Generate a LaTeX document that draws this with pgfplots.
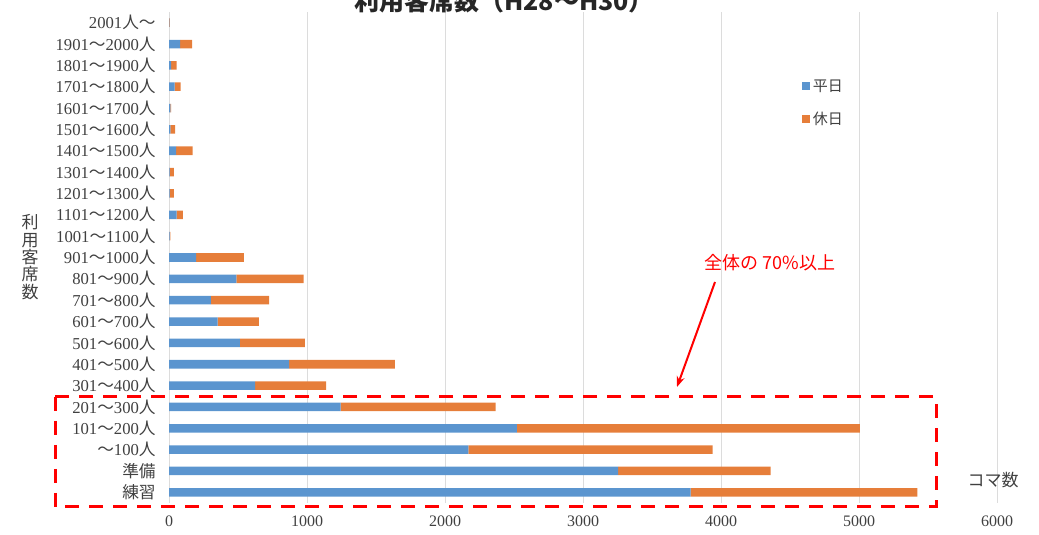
\documentclass[border=0pt]{standalone}
\usepackage{fontspec}
\setmainfont{Liberation Serif}
\newfontfamily\cjk{Noto Sans CJK JP}
\usepackage{pgfplots}
\pgfplotsset{compat=1.18}
\usetikzlibrary{arrows.meta}
\definecolor{wd}{HTML}{5B95CF}
\definecolor{we}{HTML}{E67E3A}
\definecolor{tx}{HTML}{404040}
\definecolor{gridc}{HTML}{DCDCDC}
\newcommand\J[1]{{\cjk #1}}
\newcommand\R[2]{#1\J{〜}#2\J{人}}
\begin{document}
\begin{tikzpicture}
\useasboundingbox (0,0) rectangle (779.25pt,401.25pt);
\begin{axis}[
  at={(126.75pt,24pt)}, anchor=south west,
  scale only axis, width=621pt, height=368.25pt,
  xbar stacked, bar width=6.4pt,
  xmin=0, xmax=6000, ymin=-0.5, ymax=22.5,
  xtick={0,1000,...,6000},
  ytick={0,...,22},
  yticklabels={\J{練習},\J{準備},\J{〜}100\J{人},\R{101}{200},\R{201}{300},\R{301}{400},\R{401}{500},\R{501}{600},\R{601}{700},\R{701}{800},\R{801}{900},\R{901}{1000},\R{1001}{1100},\R{1101}{1200},\R{1201}{1300},\R{1301}{1400},\R{1401}{1500},\R{1501}{1600},\R{1601}{1700},\R{1701}{1800},\R{1801}{1900},\R{1901}{2000},2001\J{人〜}},
  xmajorgrids, grid style={draw=gridc, line width=0.75pt},
  axis line style={draw=none},
  major tick length=0pt,
  /pgf/number format/1000 sep={},
  /pgf/number format/assume math mode=true,
  xticklabel style={font=\fontsize{12pt}{14pt}\selectfont, text=tx, yshift=-6pt},
  yticklabel style={font=\fontsize{12.5pt}{14pt}\selectfont, text=tx, xshift=-6.5pt},
  legend style={draw=none, fill=none, at={(0.7597,0.8737)}, anchor=north west,
    font=\fontsize{11.25pt}{13pt}\selectfont, text=tx, row sep=10pt},
  legend cell align=left,
]
\addplot[draw=none, fill=wd, legend image code/.code={\fill[wd] (0pt,-3pt) rectangle (6pt,3pt);}] coordinates {
 (3780,0) (3254,1) (2169,2) (2520,3) (1243,4) (624,5) (871,6) (514,7) (353,8) (304,9) (489,10) (197,11)
 (5,12) (56,13) (5,14) (5,15) (51,16) (10,17) (10,18) (40,19) (15,20) (80,21) (3,22)};
\addplot[draw=none, fill=we, legend image code/.code={\fill[we] (0pt,-3pt) rectangle (6pt,3pt);}] coordinates {
 (1643,0) (1106,1) (1771,2) (2487,3) (1123,4) (514,5) (766,6) (471,7) (299,8) (421,9) (487,10) (345,11)
 (5,12) (44,13) (30,14) (30,15) (121,16) (35,17) (5,18) (45,19) (40,20) (88,21) (3,22)};
\legend{\J{平日},\J{休日}}
\end{axis}
\node[anchor=base, font=\cjk\bfseries\fontsize{18.75pt}{20pt}\selectfont, text=black!85] at (378pt,393pt) {利用客席数（H28〜H30）};
\node[font=\cjk\fontsize{12.75pt}{13pt}\selectfont, text=tx, align=center] at (22.5pt,208.5pt) {利\\用\\客\\席\\数};
\node[font=\cjk\fontsize{12.75pt}{13pt}\selectfont, text=tx] at (744.75pt,41.25pt) {コマ数};
\node[font=\cjk\fontsize{13.5pt}{15pt}\selectfont, text=red] at (577.5pt,204pt) {全体の 70\%以上};
\draw[red, line width=1.5pt, -{Stealth[length=8pt,width=6pt]}] (536.25pt,189.75pt) -- (507.75pt,111pt);
\draw[red, line width=2.25pt, dash pattern=on 10.5pt off 7.5pt] (41.25pt,103.5pt) rectangle (702pt,21pt);
\end{tikzpicture}
\end{document}
